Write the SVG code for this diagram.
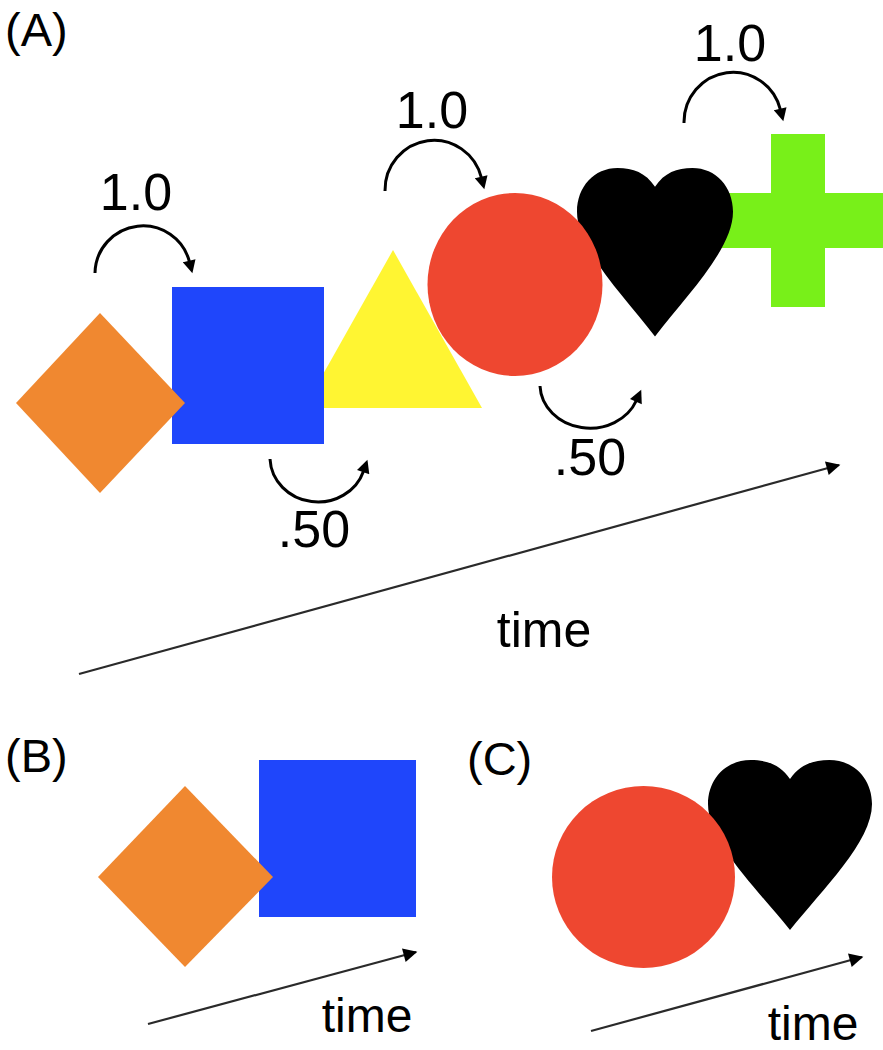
<svg xmlns="http://www.w3.org/2000/svg" width="883" height="1050" viewBox="0 0 883 1050">
<style>
text{font-family:"Liberation Sans",Arial,sans-serif;fill:#000}
.lbl{font-size:47px}
.num{font-size:52px;text-anchor:middle}
.time{text-anchor:middle}
.orange{fill:#F08830}
.blue{fill:#1F46FB}
.yellow{fill:#FFF532}
.red{fill:#EE4730}
.black{fill:#000}
.green{fill:#78F019}
.curve{fill:none;stroke:#000;stroke-width:3}
.axis{fill:none;stroke:#2a2a2a;stroke-width:2.2}
</style>
<defs>
<marker id="ah" viewBox="0 0 10 10" refX="1" refY="5" markerUnits="userSpaceOnUse" markerWidth="16" markerHeight="13" orient="auto"><path d="M0,0 L10,5 L0,10 z" fill="#000"/></marker>
<marker id="ta" viewBox="0 0 10 10" refX="9" refY="5" markerUnits="userSpaceOnUse" markerWidth="20" markerHeight="14" orient="auto"><path d="M0,0 L10,5 L0,10 z" fill="#000"/></marker>
<path id="heart" d="M50,12 C44,3 36,0 26,0 C11,0 0,12 0,28 C0,52 30,82 50,108 C70,82 100,52 100,28 C100,12 89,0 74,0 C64,0 56,3 50,12 Z"/>
</defs>

<g id="panelA-label"><text class="lbl" x="5" y="46">(A)</text></g>

<g id="A-cross"><rect class="green" x="771" y="134" width="54" height="173"/><rect class="green" x="711" y="193" width="172" height="55"/></g>
<g id="A-heart"><use href="#heart" class="black" transform="translate(577,168) scale(1.56)"/></g>
<g id="A-triangle"><polygon class="yellow" points="393,250 482,408 304,408"/></g>
<g id="A-circle"><ellipse class="red" cx="515" cy="284.5" rx="87.5" ry="91.5"/></g>
<g id="A-square"><rect class="blue" x="172" y="287" width="152" height="157"/></g>
<g id="A-diamond"><polygon class="orange" points="100,313 185,403 100,493 16,403"/></g>

<g id="connectors">
<path class="curve" marker-end="url(#ah)" d="M95,273 A48,48 0 0 1 189.5,262"/>
<path class="curve" marker-end="url(#ah)" d="M385,191 A49,50 0 0 1 481.5,178"/>
<path class="curve" marker-end="url(#ah)" d="M684,123 A49,50 0 0 1 780.5,110"/>
<path class="curve" marker-end="url(#ah)" d="M270,459 A48,45 0 0 0 363.6,470.9"/>
<path class="curve" marker-end="url(#ah)" d="M540,386 A50,44 0 0 0 636.4,400.5"/>
<line class="axis" marker-end="url(#ta)" x1="79" y1="674" x2="839" y2="465"/>
<line class="axis" marker-end="url(#ta)" x1="148" y1="1024" x2="416" y2="952"/>
<line class="axis" marker-end="url(#ta)" x1="591" y1="1031" x2="862" y2="957"/>
</g>

<g id="A-texts">
<text class="num" x="136" y="210">1.0</text>
<text class="num" x="432" y="128">1.0</text>
<text class="num" x="730" y="61">1.0</text>
<text class="num" x="314" y="547">.50</text>
<text class="num" x="590" y="475">.50</text>
<text class="time" x="544" y="647" font-size="50">time</text>
</g>

<g id="panelB-label"><text class="lbl" x="5" y="772">(B)</text></g>
<g id="B-square"><rect class="blue" x="259" y="760" width="157" height="157"/></g>
<g id="B-diamond"><polygon class="orange" points="185,786 273,877 185,967 98,877"/></g>
<g id="B-time"><text class="time" x="367" y="1032" font-size="48">time</text></g>

<g id="panelC-label"><text class="lbl" x="467" y="775">(C)</text></g>
<g id="C-heart"><use href="#heart" class="black" transform="translate(708,760) scale(1.64,1.575)"/></g>
<g id="C-circle"><ellipse class="red" cx="643.5" cy="877" rx="91.5" ry="91"/></g>
<g id="C-time"><text class="time" x="813" y="1040" font-size="48">time</text></g>
</svg>
